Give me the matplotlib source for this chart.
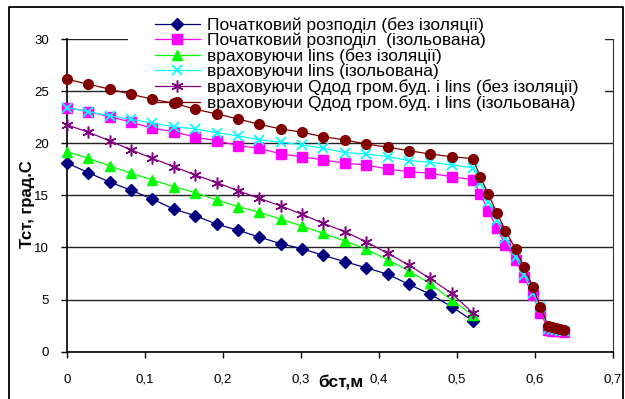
import matplotlib
matplotlib.use("Agg")
import matplotlib.pyplot as plt
from matplotlib.lines import Line2D

plt.rcParams['font.family'] = ['Liberation Sans', 'DejaVu Sans']

# ---- data ----
x_base = [0.0, 0.027, 0.055, 0.082, 0.109, 0.137, 0.164, 0.192, 0.219, 0.246,
          0.274, 0.301, 0.328, 0.356, 0.383, 0.411, 0.438, 0.465, 0.493, 0.520]
x_steep = [0.530, 0.540, 0.551, 0.562, 0.575, 0.586, 0.597, 0.607,
           0.617, 0.622, 0.627, 0.632, 0.637]
x_iso = x_base + x_steep

y_init_noins = [18.1, 17.18, 16.26, 15.49, 14.65, 13.67, 13.05, 12.23, 11.65, 11.01,
                10.36, 9.88, 9.25, 8.64, 8.06, 7.43, 6.47, 5.54, 4.32, 2.98]
y_init_iso = [23.42, 23.03, 22.55, 22.02, 21.44, 21.11, 20.58, 20.25, 19.77, 19.52,
              18.97, 18.71, 18.40, 18.08, 17.92, 17.53, 17.27, 17.12, 16.79, 16.5,
              15.11, 13.50, 11.90, 10.24, 8.80, 7.14, 5.44, 3.74,
              2.1, 2.0, 2.0, 1.95, 1.9]
y_lins_noins = [19.19, 18.56, 17.82, 17.12, 16.48, 15.83, 15.26, 14.56, 13.92, 13.38,
                12.71, 12.06, 11.36, 10.62, 9.86, 8.80, 7.77, 6.56, 4.96, 3.52]
y_lins_iso = [23.42, 23.03, 22.62, 22.30, 21.92, 21.59, 21.37, 21.02, 20.70, 20.32,
              20.10, 19.84, 19.52, 19.10, 18.97, 18.71, 18.33, 18.18, 17.92, 17.65,
              16.16, 14.40, 12.64, 10.88, 9.12, 7.36, 5.66, 4.32,
              2.2, 2.1, 2.05, 2.0, 1.95]
y_q_noins = [21.76, 21.06, 20.22, 19.36, 18.56, 17.75, 16.96, 16.22, 15.45, 14.72,
             13.98, 13.19, 12.32, 11.52, 10.56, 9.44, 8.32, 7.04, 5.60, 3.74]
y_q_iso = [26.14, 25.66, 25.18, 24.70, 24.22, 23.84, 23.26, 22.81, 22.33, 21.82,
           21.37, 21.06, 20.63, 20.32, 19.93, 19.62, 19.29, 18.97, 18.71, 18.52,
           16.79, 15.11, 13.34, 11.61, 9.86, 8.10, 6.24, 4.26,
           2.45, 2.35, 2.3, 2.2, 2.1]

labels = ["Початковий розподіл (без ізоляції)",
          "Початковий розподіл  (ізольована)",
          "враховуючи lins (без ізоляції)",
          "враховуючи lins (ізольована)",
          "враховуючи Qдод гром.буд. і lins (без ізоляції)",
          "враховуючи Qдод гром.буд. і lins (ізольована)"]

x_ticks = [0.0, 0.1, 0.2, 0.3, 0.4, 0.5, 0.6, 0.7]
x_ticklabels = ["0", "0,1", "0,2", "0,3", "0,4", "0,5", "0,6", "0,7"]
y_ticks = [0, 5, 10, 15, 20, 25, 30]

# ---- figure ----
W, H = 625, 399
fig = plt.figure(figsize=(W / 100, H / 100), dpi=100)
ax = fig.add_axes([67.2 / W, 1 - 351.7 / H, (613 - 67.2) / W, (351.7 - 39) / H])

lw = 0.9
series = [
    (x_base, y_init_noins, dict(color='#000080', marker='D', ms=6)),
    (x_iso, y_init_iso, dict(color='#FF00FF', marker='s', ms=6.5)),
    (x_base, y_lins_noins, dict(color='#00FF00', marker='^', ms=7.5)),
    (x_iso, y_lins_iso, dict(color='#00FFFF', marker='x', ms=7.5, mew=1.3)),
    (x_base, y_q_noins, dict(color='#800080', marker=(6, 2, 0), ms=8.5, mew=1.1)),
    (x_iso, y_q_iso, dict(color='#800000', marker='o', ms=7)),
]
handles = []
for (xs, ys, st), lab in zip(series, labels):
    h, = ax.plot(xs, ys, lw=lw, label=lab, zorder=3, clip_on=False, **st)
    handles.append(h)

ax.set_xlim(0, 0.7)
ax.set_ylim(0, 30)
ax.set_xticks(x_ticks)
ax.set_xticklabels(x_ticklabels)
ax.set_yticks(y_ticks)
ax.tick_params(axis='both', direction='out', length=4, width=1, labelsize=9.5,
               colors='black')
ax.tick_params(axis='x', pad=12)
ax.tick_params(axis='y', pad=9)
ax.set_axisbelow(True)
ax.grid(axis='y', color='#222222', lw=1.0)
ax.spines['top'].set_visible(False)
ax.spines['right'].set_color('#333333')
ax.spines['right'].set_zorder(1)
for s in ('left', 'bottom'):
    ax.spines[s].set_linewidth(1.2)
    ax.spines[s].set_color('black')

ax.set_ylabel("Тст, град.С", fontsize=12, fontweight='bold')
ax.yaxis.set_label_coords((27.5 - 67.2) / (613 - 67.2), (351.7 - 204) / 312.7)
ax.yaxis.label.set_va('center')
ax.set_xlabel("бст,м", fontsize=12.5, fontweight='bold')
ax.xaxis.set_label_coords((341 - 67.2) / (613 - 67.2), -(382 - 351.7) / 312.7)
ax.xaxis.label.set_va('center')

fs = 12.5
leg = ax.legend(handles=handles, loc='upper left',
                bbox_to_anchor=(128 / W, 1 + 10 / H), bbox_transform=fig.transFigure,
                borderaxespad=0, fontsize=fs, frameon=True, facecolor='white',
                edgecolor='none', framealpha=1, fancybox=False,
                borderpad=1.55, handlelength=2.6, handletextpad=0.4,
                labelspacing=0.0)
leg.set_zorder(2)

# outer chart border
bx0, bx1, by1 = 9 / W, 622.7 / W, 1 - 7 / H
fig.add_artist(Line2D([bx0, bx0, bx1, bx1], [0, by1, by1, 0],
                      transform=fig.transFigure, color='black', lw=1.3))

fig.savefig("out.png", dpi=100)
